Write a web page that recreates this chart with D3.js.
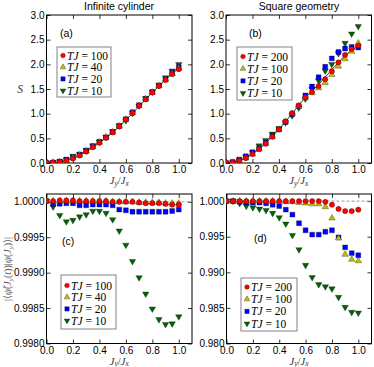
<!DOCTYPE html>
<html>
<head>
<meta charset="utf-8">
<script src="https://cdn.jsdelivr.net/npm/d3@7"></script>
<style>
  body { margin: 0; background: #fff; }
  svg { display: block; font-family: "Liberation Sans", Arial, sans-serif; }
</style>
</head>
<body>
<svg class="chart" width="374" height="367"></svg>
<script>
// ratio J_y / J_x
const ratios = [0.00, 0.05, 0.10, 0.15, 0.20, 0.25, 0.30, 0.35, 0.40, 0.45, 0.50,
                0.55, 0.60, 0.65, 0.70, 0.75, 0.80, 0.85, 0.90, 0.95, 1.00];

// (a) entropy, infinite cylinder
const cylExact = [0.00, 0.005, 0.02, 0.05, 0.09, 0.15, 0.23, 0.31, 0.41, 0.51, 0.62,
                  0.74, 0.87, 1.01, 1.15, 1.29, 1.43, 1.56, 1.69, 1.81, 1.92];
const cylS100 = [0.00, 0.01, 0.02, 0.05, 0.09, 0.15, 0.23, 0.32, 0.41, 0.51, 0.62,
                 0.74, 0.88, 1.01, 1.16, 1.29, 1.43, 1.56, 1.68, 1.80, 1.90];
const cylS40 = [0.00, 0.01, 0.02, 0.05, 0.10, 0.16, 0.24, 0.33, 0.42, 0.52, 0.63,
                0.75, 0.88, 1.02, 1.16, 1.30, 1.43, 1.57, 1.69, 1.81, 1.92];
const cylS20 = [0.00, 0.01, 0.03, 0.07, 0.12, 0.17, 0.25, 0.34, 0.43, 0.52, 0.63,
                0.75, 0.89, 1.03, 1.17, 1.30, 1.44, 1.57, 1.70, 1.83, 1.94];
const cylS10 = [0.00, 0.01, 0.03, 0.07, 0.14, 0.18, 0.26, 0.35, 0.43, 0.53, 0.64,
                0.76, 0.86, 1.01, 1.16, 1.31, 1.44, 1.58, 1.73, 1.87, 2.00];

// (b) entropy, square geometry
const sqExact = [0.00, 0.01, 0.05, 0.10, 0.18, 0.28, 0.40, 0.54, 0.68, 0.84, 1.00,
                 1.17, 1.33, 1.46, 1.59, 1.74, 1.89, 2.04, 2.18, 2.29, 2.37];
const sqS200 = [0.00, 0.01, 0.05, 0.10, 0.18, 0.28, 0.39, 0.53, 0.68, 0.84, 1.01,
                1.17, 1.33, 1.44, 1.56, 1.70, 1.86, 2.04, 2.19, 2.31, 2.38];
const sqS100 = [0.00, 0.01, 0.05, 0.10, 0.18, 0.28, 0.39, 0.53, 0.68, 0.84, 1.00,
                1.15, 1.32, 1.42, 1.52, 1.63, 1.79, 1.96, 2.11, 2.26, 2.43];
const sqS20 = [0.00, 0.02, 0.07, 0.14, 0.22, 0.30, 0.41, 0.55, 0.68, 0.83, 0.99,
               1.15, 1.37, 1.55, 1.74, 1.95, 2.12, 2.25, 2.32, 2.35, 2.34];
const sqS10 = [0.00, 0.01, 0.05, 0.12, 0.21, 0.35, 0.46, 0.59, 0.70, 0.82, 0.96,
               1.12, 1.30, 1.50, 1.67, 1.87, 2.00, 2.22, 2.43, 2.62, 2.77];

// (c) overlap, infinite cylinder
const cylF100 = [1.00001, 1.00001, 1.00002, 1.00002, 1.00002, 1.00001, 1.00001, 1.00001, 1.00001, 1.00001, 1.00000,
                 1.00000, 1.00000, 1.00000, 0.99999, 0.99998, 0.99998, 0.99998, 0.99997, 0.99996, 0.99996];
const cylF40 = [1.00001, 1.00001, 1.00001, 1.00001, 1.00001, 1.00001, 1.00001, 1.00001, 1.00001, 1.00001, 1.00000,
                1.00000, 1.00000, 1.00000, 0.99999, 0.99999, 0.99999, 0.99999, 0.99998, 0.99998, 0.99998];
const cylF20 = [1.00001, 0.99997, 0.99997, 0.99998, 0.99998, 0.99995, 0.99995, 0.99996, 0.99996, 0.99996, 0.99995,
                0.99989, 0.99988, 0.99986, 0.99986, 0.99986, 0.99986, 0.99986, 0.99986, 0.99987, 0.99989];
const cylF10 = [1.00001, 0.99993, 0.99981, 0.99972, 0.99974, 0.99979, 0.99982, 0.99987, 0.99987, 0.99984, 0.99975,
                0.99959, 0.99939, 0.99916, 0.99893, 0.99870, 0.99849, 0.99834, 0.99827, 0.99828, 0.99838];

// (d) overlap, square geometry
const sqF200 = [1.0000, 1.0000, 1.0000, 1.0000, 1.0000, 1.0000, 1.0000, 1.0000, 1.0000, 1.0000, 1.0000,
                1.0000, 1.0000, 1.0000, 1.0000, 0.9999, 0.9995, 0.9989, 0.9986, 0.9986, 0.9988];
const sqF100 = [1.0000, 1.0000, 1.0000, 1.0000, 1.0000, 1.0000, 1.0000, 1.0000, 1.0000, 0.9999, 0.9999,
                0.9998, 0.9997, 0.9996, 0.9996, 0.9992, 0.9976, 0.9948, 0.9925, 0.9918, 0.9916];
const sqF20 = [1.0000, 1.0000, 0.9999, 0.9998, 0.9998, 0.9998, 0.9997, 0.9995, 0.9993, 0.9988, 0.9981,
               0.9969, 0.9959, 0.9953, 0.9953, 0.9957, 0.9959, 0.9949, 0.9935, 0.9927, 0.9924];
const sqF10 = [1.0000, 1.0000, 0.9997, 0.9993, 0.9991, 0.9989, 0.9987, 0.9983, 0.9977, 0.9968, 0.9952,
               0.9932, 0.9910, 0.9893, 0.9883, 0.9880, 0.9877, 0.9865, 0.9851, 0.9844, 0.9843];

const xTicks = [0.0, 0.2, 0.4, 0.6, 0.8, 1.0];
const sTicks = [0.0, 0.5, 1.0, 1.5, 2.0, 2.5, 3.0];
const cylFTicks = [0.9980, 0.9985, 0.9990, 0.9995, 1.0000];
const sqFTicks = [0.980, 0.985, 0.990, 0.995, 1.000];

const cylTemps = ["100", "40", "20", "10"];
const sqTemps = ["200", "100", "20", "10"];

const styles = [
  { color: "#ff0000", shape: d3.symbolCircle, size: 22, rot: 0 },
  { color: "#bfbf00", shape: d3.symbolTriangle, size: 18, rot: 0 },
  { color: "#0000ff", shape: d3.symbolSquare, size: 24, rot: 0 },
  { color: "#006400", shape: d3.symbolTriangle, size: 18, rot: 180 }
];

const svg = d3.select(".chart");

const drawPanel = (opt) => {
  const { left, right, top, bottom } = opt.box;
  const xScale = d3.scaleLinear().domain([0, 1.1]).range([left, right]);
  const yScale = d3.scaleLinear().domain(opt.yDomain).range([bottom, top]);
  const g = svg.append("g");

  const clipId = "clip-" + opt.tag.replace(/[()]/g, "");
  g.append("clipPath").attr("id", clipId)
    .append("rect")
    .attr("x", left).attr("y", top)
    .attr("width", right - left).attr("height", bottom - top);

  // axes with inward ticks on all sides
  const tickLen = 4;
  g.append("g").attr("transform", `translate(0,${bottom})`)
    .call(d3.axisBottom(xScale).tickValues(xTicks).tickSizeInner(-tickLen).tickSizeOuter(0)
      .tickPadding(3).tickFormat(d3.format(".1f")));
  g.append("g").attr("transform", `translate(0,${top})`)
    .call(d3.axisTop(xScale).tickValues(xTicks).tickSizeInner(-tickLen).tickSizeOuter(0).tickFormat(""));
  g.append("g").attr("transform", `translate(${left},0)`)
    .call(d3.axisLeft(yScale).tickValues(opt.yTicks).tickSizeInner(-tickLen).tickSizeOuter(0)
      .tickPadding(2).tickFormat(d3.format(opt.yFormat)));
  g.append("g").attr("transform", `translate(${right},0)`)
    .call(d3.axisRight(yScale).tickValues(opt.yTicks).tickSizeInner(-tickLen).tickSizeOuter(0).tickFormat(""));
  g.selectAll(".domain").remove();
  g.selectAll(".tick line").attr("stroke", "#000").attr("stroke-width", 0.8);
  g.selectAll(".tick text").attr("font-size", 10).attr("fill", "#000")
    .attr("font-family", "Liberation Sans, Arial, sans-serif");

  g.append("rect")
    .attr("x", left).attr("y", top)
    .attr("width", right - left).attr("height", bottom - top)
    .attr("fill", "none").attr("stroke", "#000").attr("stroke-width", 1);

  const plot = g.append("g").attr("clip-path", `url(#${clipId})`);

  if (opt.reference) {
    plot.append("line")
      .attr("x1", left).attr("x2", right)
      .attr("y1", yScale(1)).attr("y2", yScale(1))
      .attr("stroke", "#999").attr("stroke-width", 1).attr("stroke-dasharray", "3,2");
  }

  if (opt.exact) {
    const curve = d3.line()
      .x((d, i) => xScale(ratios[i]))
      .y(d => yScale(d));
    plot.append("path")
      .datum(opt.exact)
      .attr("fill", "none").attr("stroke", "#222").attr("stroke-width", 0.9)
      .attr("d", curve);
  }

  // draw last series first so TJ large sits on top
  for (let k = opt.series.length - 1; k >= 0; k--) {
    const st = styles[k];
    const sym = d3.symbol().type(st.shape).size(st.size);
    plot.append("g").selectAll("path")
      .data(opt.series[k])
      .join("path")
      .attr("d", sym)
      .attr("transform", (d, i) => `translate(${xScale(ratios[i])},${yScale(d)}) rotate(${st.rot})`)
      .attr("fill", st.color)
      .attr("stroke", "#000").attr("stroke-width", 0.3);
  }

  // panel letter
  g.append("text")
    .attr("x", opt.letter[0]).attr("y", opt.letter[1])
    .attr("font-size", 10.5).text(opt.tag);

  // legend
  const lg = opt.legend;
  const leg = g.append("g");
  leg.append("rect")
    .attr("x", lg.x).attr("y", lg.y).attr("width", lg.w).attr("height", lg.h)
    .attr("fill", "#fff").attr("stroke", "#777").attr("stroke-width", 0.9);
  opt.temps.forEach((t, k) => {
    const st = styles[k];
    const yy = lg.y + lg.first + k * lg.step;
    leg.append("path")
      .attr("d", d3.symbol().type(st.shape).size(st.size * 0.8)())
      .attr("transform", `translate(${lg.x + 6},${yy}) rotate(${st.rot})`)
      .attr("fill", st.color).attr("stroke", "#000").attr("stroke-width", 0.3);
    const txt = leg.append("text")
      .attr("x", lg.x + 10).attr("y", yy + 4)
      .attr("font-family", "Liberation Serif, DejaVu Serif, serif")
      .attr("font-size", 11.5);
    txt.append("tspan").attr("font-style", "italic").text("TJ");
    txt.append("tspan").text(" = " + t);
  });

  // x label J_y / J_x
  const xl = g.append("text")
    .attr("x", (left + right) / 2).attr("y", bottom + 21)
    .attr("text-anchor", "middle")
    .attr("font-family", "Liberation Serif, DejaVu Serif, serif")
    .attr("font-size", 10.5).attr("fill", "#333");
  xl.append("tspan").attr("font-style", "italic").text("J");
  xl.append("tspan").attr("font-style", "italic").attr("font-size", 7.5).attr("dy", 1.5).text("y");
  xl.append("tspan").attr("dy", -1.5).text("/");
  xl.append("tspan").attr("font-style", "italic").text("J");
  xl.append("tspan").attr("font-style", "italic").attr("font-size", 7.5).attr("dy", 1.5).text("x");
};

drawPanel({
  tag: "(a)", box: { left: 46.5, right: 192, top: 15, bottom: 163 },
  yDomain: [0, 3], yTicks: sTicks, yFormat: ".1f",
  series: [cylS100, cylS40, cylS20, cylS10], exact: cylExact,
  temps: cylTemps, letter: [60, 37],
  legend: { x: 57, y: 47, w: 54, h: 50, first: 8.5, step: 11.7 }
});
drawPanel({
  tag: "(b)", box: { left: 226, right: 371.5, top: 15, bottom: 163 },
  yDomain: [0, 3], yTicks: sTicks, yFormat: ".1f",
  series: [sqS200, sqS100, sqS20, sqS10], exact: sqExact,
  temps: sqTemps, letter: [249, 37],
  legend: { x: 237, y: 47, w: 55, h: 53, first: 9.5, step: 12.2 }
});
drawPanel({
  tag: "(c)", box: { left: 46.5, right: 192, top: 194, bottom: 343.5 },
  yDomain: [0.998, 1.00011], yTicks: cylFTicks, yFormat: ".4f",
  series: [cylF100, cylF40, cylF20, cylF10], reference: true,
  temps: cylTemps, letter: [62, 245],
  legend: { x: 61, y: 275, w: 55, h: 54, first: 10.5, step: 11.7 }
});
drawPanel({
  tag: "(d)", box: { left: 226.5, right: 371.5, top: 194, bottom: 343.5 },
  yDomain: [0.98, 1.001], yTicks: sqFTicks, yFormat: ".3f",
  series: [sqF200, sqF100, sqF20, sqF10], reference: true,
  temps: sqTemps, letter: [254, 242],
  legend: { x: 241, y: 278, w: 56, h: 53, first: 9, step: 12.2 }
});

// titles and y labels
svg.append("text").attr("x", 119).attr("y", 10).attr("text-anchor", "middle")
  .attr("font-size", 10.5).text("Infinite cylinder");
svg.append("text").attr("x", 299).attr("y", 10).attr("text-anchor", "middle")
  .attr("font-size", 10.5).text("Square geometry");

svg.append("text").attr("x", 20).attr("y", 93).attr("text-anchor", "middle")
  .attr("font-family", "Liberation Serif, DejaVu Serif, serif")
  .attr("font-style", "italic").attr("font-size", 11.5).attr("fill", "#333").text("S");

const yl = svg.append("text")
  .attr("transform", "translate(11,269) rotate(-90)")
  .attr("text-anchor", "middle")
  .attr("font-family", "Liberation Serif, DejaVu Serif, serif")
  .attr("font-size", 10).attr("fill", "#555");
yl.append("tspan").text("|⟨");
yl.append("tspan").attr("font-style", "italic").text("ψ̃");
yl.append("tspan").text("(");
yl.append("tspan").attr("font-style", "italic").text("J");
yl.append("tspan").attr("font-style", "italic").attr("font-size", 7).attr("dy", 2).text("y");
yl.append("tspan").attr("dy", -2).text("(");
yl.append("tspan").attr("font-style", "italic").text("t");
yl.append("tspan").text("))|");
yl.append("tspan").attr("font-style", "italic").text("ψ");
yl.append("tspan").text("(");
yl.append("tspan").attr("font-style", "italic").text("J");
yl.append("tspan").attr("font-style", "italic").attr("font-size", 7).attr("dy", 2).text("y");
yl.append("tspan").attr("dy", -2).text(")⟩|");
</script>
</body>
</html>
